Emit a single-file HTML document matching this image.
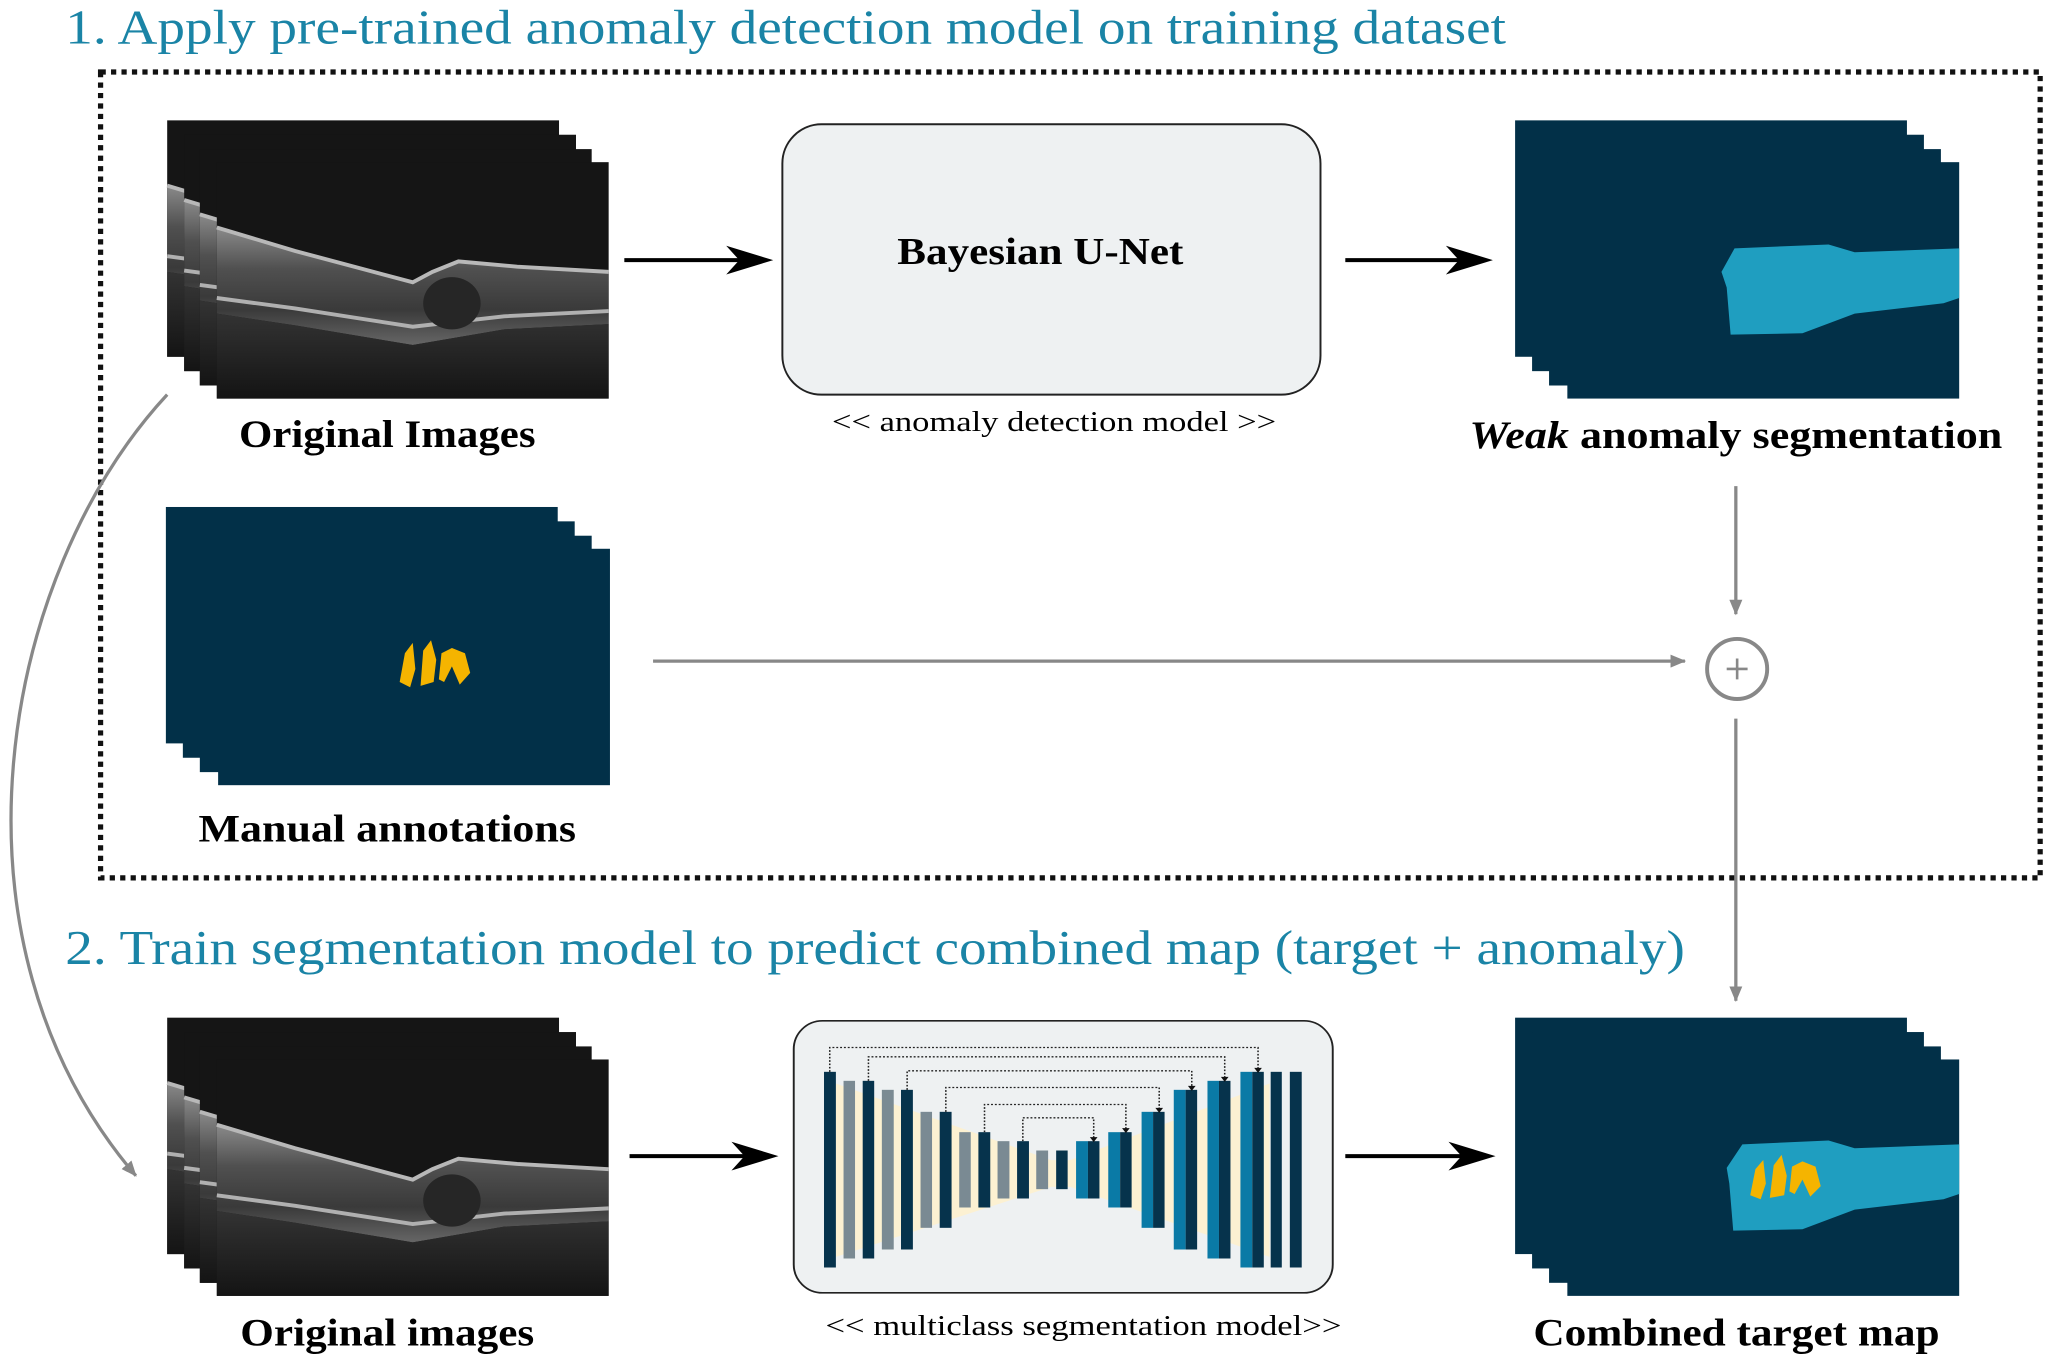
<!DOCTYPE html>
<html><head><meta charset="utf-8"><style>
html,body{margin:0;padding:0;background:#fff;}
svg{display:block;}
text{font-family:"Liberation Serif",serif;}
</style></head><body>
<svg width="2048" height="1364" viewBox="0 0 1568 1044" xmlns="http://www.w3.org/2000/svg">
<defs>
<linearGradient id="band" x1="0" y1="0" x2="0" y2="1">
<stop offset="0" stop-color="#8a8a8a"/><stop offset="0.35" stop-color="#505050"/><stop offset="0.7" stop-color="#3a3a3a"/><stop offset="1" stop-color="#666"/>
</linearGradient>
<linearGradient id="below" x1="0" y1="0" x2="0" y2="1">
<stop offset="0" stop-color="#333"/><stop offset="1" stop-color="#141414"/>
</linearGradient>
<g id="oct">
<rect x="0" y="0" width="300" height="181" fill="#151515"/>
<path d="M0,50 L60,68 L150,92 L165,84 L185,76 L230,80 L300,84 L300,124 L220,128 L150,140 L60,125 L0,116 Z" fill="url(#band)"/>
<path d="M0,116 L60,125 L150,140 L220,128 L300,124 L300,181 L0,181 Z" fill="url(#below)"/>
<path d="M0,50 L60,68 L150,92 L165,84 L185,76 L230,80 L300,84" fill="none" stroke="#b8b8b8" stroke-width="3"/>
<path d="M0,104 L60,112 L150,126 L220,118 L300,114" fill="none" stroke="#b0b0b0" stroke-width="3"/>
<ellipse cx="180" cy="108" rx="22" ry="20" fill="#262626"/>
</g>
<g id="dl"><rect width="300" height="181" fill="#023048"/></g>
<marker id="ga" markerWidth="12" markerHeight="10" refX="11" refY="5" orient="auto" markerUnits="userSpaceOnUse"><path d="M0,0 L12,5 L0,10 Z" fill="#888"/></marker>
</defs>

<text x="50" y="33" font-size="37" fill="#1a84a6" textLength="1103" lengthAdjust="spacingAndGlyphs">1. Apply pre-trained anomaly detection model on training dataset</text>
<rect x="77" y="55" width="1485" height="617" fill="none" stroke="#111" stroke-width="4" stroke-dasharray="4 4"/>

<use href="#oct" x="128" y="92"/><use href="#oct" x="141" y="103"/><use href="#oct" x="153" y="114"/><use href="#oct" x="166" y="124"/>
<text x="183" y="342" font-size="30" font-weight="bold" textLength="227" lengthAdjust="spacingAndGlyphs">Original Images</text>

<path d="M478,199 L575,199" stroke="#000" stroke-width="3"/><path d="M592,199 L556,188 L566,199 L556,210 Z" fill="#000"/>
<rect x="599" y="95" width="412" height="207" rx="30" fill="#eef1f2" stroke="#222" stroke-width="1.5"/>
<text x="687" y="202" font-size="29" font-weight="bold" textLength="219" lengthAdjust="spacingAndGlyphs">Bayesian U-Net</text>
<text x="637" y="330" font-size="22" textLength="340" lengthAdjust="spacingAndGlyphs">&lt;&lt; anomaly detection model &gt;&gt;</text>
<path d="M1030,199 L1126,199" stroke="#000" stroke-width="3"/><path d="M1143,199 L1107,188 L1117,199 L1107,210 Z" fill="#000"/>

<use href="#dl" x="1160" y="92"/><use href="#dl" x="1173" y="103"/><use href="#dl" x="1186" y="114"/><use href="#dl" x="1200" y="124"/>
<path d="M1328,190 L1400,187 L1420,193 L1500,190 L1500,228 L1488,232 L1420,240 L1380,255 L1325,256 L1322,220 L1318,208 Z" fill="#1f9ec0"/>
<text x="1125" y="343" font-size="30" font-weight="bold" textLength="408" lengthAdjust="spacingAndGlyphs"><tspan font-style="italic">Weak</tspan> anomaly segmentation</text>

<use href="#dl" x="127" y="388"/><use href="#dl" x="140" y="399"/><use href="#dl" x="153" y="410"/><use href="#dl" x="167" y="420"/>
<path d="M306,522 L310,500 L316,492 L318,512 L314,526 Z M322,525 L324,498 L330,490 L334,505 L332,522 Z M336,520 L338,500 L346,496 L356,500 L360,515 L352,524 L346,510 L340,522 Z" fill="#f5b400"/>
<text x="152" y="644" font-size="30" font-weight="bold" textLength="289" lengthAdjust="spacingAndGlyphs">Manual annotations</text>

<path d="M500,506 L1290,506" stroke="#888" stroke-width="2.5" marker-end="url(#ga)"/>
<path d="M1329,372 L1329,470" stroke="#888" stroke-width="2.5" marker-end="url(#ga)"/>
<circle cx="1330" cy="512" r="23" fill="none" stroke="#888" stroke-width="3"/>
<path d="M1322,512 H1338 M1330,504 V520" stroke="#888" stroke-width="2"/>
<path d="M1329,550 L1329,766" stroke="#888" stroke-width="2.5" marker-end="url(#ga)"/>
<path d="M128,302 C 0,440 -50,720 104,900" fill="none" stroke="#888" stroke-width="2.5" marker-end="url(#ga)"/>

<text x="50" y="738" font-size="37" fill="#1a84a6" textLength="1240" lengthAdjust="spacingAndGlyphs">2. Train segmentation model to predict combined map (target + anomaly)</text>

<use href="#oct" x="128" y="779"/><use href="#oct" x="141" y="790"/><use href="#oct" x="153" y="801"/><use href="#oct" x="166" y="811"/>
<text x="184" y="1030" font-size="30" font-weight="bold" textLength="225" lengthAdjust="spacingAndGlyphs">Original images</text>

<path d="M482,885 L579,885" stroke="#000" stroke-width="3"/><path d="M596,885 L560,874 L570,885 L560,896 Z" fill="#000"/>
<path d="M1030,885 L1128,885" stroke="#000" stroke-width="3"/><path d="M1145,885 L1109,874 L1119,885 L1109,896 Z" fill="#000"/>

<g transform="translate(581.9,765.6) scale(0.2933,0.2552)">
<rect x="88" y="62" width="1407" height="816" rx="75" ry="85" fill="#eef1f2" stroke="#222" stroke-width="5"/>
<polygon points="198,250 760,480 810,480 1330,250 1330,770 810,560 760,560 198,770" fill="#fcf1d2"/>
<g fill="#7a8a93">
<rect x="218" y="242" width="30" height="533"/><rect x="318" y="269" width="31" height="479"/><rect x="419" y="335" width="30" height="348"/><rect x="520" y="396" width="30" height="226"/><rect x="620" y="423" width="31" height="172"/><rect x="721" y="451" width="31" height="116"/>
</g>
<g fill="#0a7aa6">
<rect x="825" y="423" width="31" height="172"/><rect x="909" y="396" width="31" height="226"/><rect x="996" y="335" width="30" height="348"/><rect x="1080" y="269" width="31" height="479"/><rect x="1168" y="242" width="30" height="533"/><rect x="1254" y="215" width="31" height="587"/>
</g>
<g fill="#06334c">
<rect x="167" y="215" width="31" height="587"/><rect x="268" y="242" width="30" height="533"/><rect x="368" y="269" width="31" height="479"/><rect x="469" y="335" width="31" height="348"/><rect x="570" y="396" width="31" height="226"/><rect x="671" y="423" width="31" height="172"/><rect x="773" y="451" width="30" height="116"/>
<rect x="856" y="423" width="30" height="172"/><rect x="940" y="396" width="30" height="226"/><rect x="1026" y="335" width="30" height="348"/><rect x="1111" y="269" width="30" height="479"/><rect x="1198" y="242" width="30" height="533"/><rect x="1285" y="215" width="30" height="587"/><rect x="1333" y="215" width="29" height="587"/><rect x="1383" y="215" width="31" height="587"/>
</g>
<g fill="none" stroke="#222" stroke-width="4" stroke-dasharray="5 5">
<path d="M182,215 V142 H1300 V205"/><path d="M283,242 V170 H1213 V232"/><path d="M384,269 V212 H1127 V259"/><path d="M485,335 V262 H1042 V325"/><path d="M586,396 V313 H955 V386"/><path d="M686,423 V353 H871 V413"/>
</g>
<g fill="#111">
<path d="M1290,203 L1310,203 L1300,218 Z"/><path d="M1203,230 L1223,230 L1213,245 Z"/><path d="M1117,257 L1137,257 L1127,272 Z"/><path d="M1032,323 L1052,323 L1042,338 Z"/><path d="M945,384 L965,384 L955,399 Z"/><path d="M861,411 L881,411 L871,426 Z"/>
</g>
</g>
<text x="632" y="1022" font-size="22" textLength="395" lengthAdjust="spacingAndGlyphs">&lt;&lt; multiclass segmentation model&gt;&gt;</text>

<use href="#dl" x="1160" y="779"/><use href="#dl" x="1173" y="790"/><use href="#dl" x="1186" y="801"/><use href="#dl" x="1200" y="811"/>
<path d="M1334,876 L1400,873 L1420,879 L1500,876 L1500,914 L1488,918 L1420,926 L1380,941 L1327,942 L1324,906 L1322,894 Z" fill="#1f9ec0"/>
<path d="M1340,915 L1344,895 L1350,888 L1352,906 L1348,918 Z M1355,917 L1358,892 L1364,884 L1368,900 L1366,915 Z M1370,912 L1372,893 L1380,889 L1390,893 L1394,908 L1386,916 L1380,903 L1374,914 Z" fill="#f5b400"/>
<text x="1174" y="1030" font-size="30" font-weight="bold" textLength="311" lengthAdjust="spacingAndGlyphs">Combined target map</text>
</svg>
</body></html>
